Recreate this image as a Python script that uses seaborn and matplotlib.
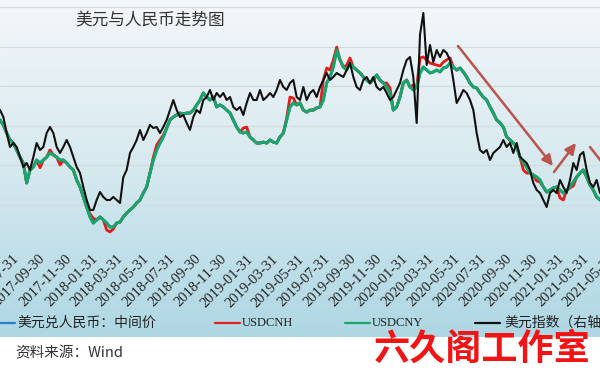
import numpy as np
import pandas as pd
import matplotlib
matplotlib.use("Agg")
import matplotlib.pyplot as plt
import seaborn as sns
from matplotlib.lines import Line2D
from matplotlib.colors import LinearSegmentedColormap

# ---------------- data ----------------
TITLE = "美元与人民币走势图"
SOURCE = "资料来源：Wind"
WATERMARK = "六久阁工作室"
SERIES_NAMES = ["美元兑人民币：中间价", "USDCNH", "USDCNY", "美元指数（右轴）"]

START_DATE = "2017-07-01"
END_DATE = "2021-05-11"
N_POINTS = 181

TICK_DATES = ["2017-07-31", "2017-09-30", "2017-11-30", "2018-01-31", "2018-03-31",
              "2018-05-31", "2018-07-31", "2018-09-30", "2018-11-30", "2019-01-31",
              "2019-03-31", "2019-05-31", "2019-07-31", "2019-09-30", "2019-11-30",
              "2020-01-31", "2020-03-31", "2020-05-31", "2020-07-31", "2020-09-30",
              "2020-11-30", "2021-01-31", "2021-03-31", "2021-05-31"]

USDCNY = [
    6.828, 6.802, 6.762, 6.727, 6.711, 6.676, 6.640, 6.610, 6.509, 6.575, 6.590, 6.625, 6.610, 6.625, 6.640,
    6.661, 6.651, 6.640, 6.625, 6.625, 6.610, 6.590, 6.575, 6.524, 6.489, 6.438, 6.387, 6.337, 6.306, 6.322,
    6.337, 6.322, 6.306, 6.286, 6.286, 6.306, 6.311, 6.337, 6.357, 6.372, 6.387, 6.408, 6.423, 6.458, 6.489,
    6.559, 6.625, 6.676, 6.711, 6.742, 6.787, 6.828, 6.843, 6.853, 6.863, 6.858, 6.863, 6.863, 6.878, 6.904,
    6.929, 6.965, 6.944, 6.929, 6.944, 6.894, 6.904, 6.894, 6.878, 6.863, 6.828, 6.792, 6.767, 6.762, 6.767,
    6.742, 6.727, 6.711, 6.711, 6.716, 6.711, 6.727, 6.716, 6.711, 6.742, 6.762, 6.828, 6.894, 6.914, 6.904,
    6.914, 6.878, 6.868, 6.878, 6.878, 6.889, 6.894, 6.929, 7.015, 7.046, 7.096, 7.182, 7.132, 7.096, 7.081,
    7.116, 7.096, 7.081, 7.066, 7.046, 7.030, 7.015, 7.030, 7.056, 7.030, 7.015, 6.995, 6.965, 6.878, 6.894,
    6.944, 7.015, 7.030, 6.995, 6.980, 6.995, 7.066, 7.096, 7.081, 7.066, 7.071, 7.081, 7.071, 7.091, 7.096,
    7.116, 7.096, 7.081, 7.091, 7.071, 7.046, 7.015, 6.995, 6.990, 6.965, 6.944, 6.929, 6.894, 6.863, 6.828,
    6.813, 6.792, 6.742, 6.727, 6.711, 6.691, 6.640, 6.610, 6.590, 6.559, 6.549, 6.539, 6.524, 6.489, 6.463,
    6.473, 6.484, 6.489, 6.473, 6.458, 6.473, 6.489, 6.514, 6.539, 6.559, 6.575, 6.539, 6.499, 6.473, 6.438,
    6.423]

USDCNH = [
    6.828, 6.802, 6.762, 6.727, 6.711, 6.676, 6.640, 6.610, 6.509, 6.575, 6.590, 6.625, 6.586, 6.625, 6.640,
    6.676, 6.651, 6.640, 6.600, 6.625, 6.610, 6.590, 6.575, 6.524, 6.489, 6.438, 6.387, 6.352, 6.330, 6.322,
    6.337, 6.322, 6.271, 6.261, 6.276, 6.306, 6.311, 6.337, 6.357, 6.372, 6.387, 6.408, 6.423, 6.458, 6.489,
    6.559, 6.640, 6.701, 6.727, 6.752, 6.787, 6.828, 6.843, 6.853, 6.863, 6.858, 6.863, 6.863, 6.878, 6.904,
    6.929, 6.965, 6.944, 6.929, 6.944, 6.894, 6.904, 6.894, 6.878, 6.863, 6.828, 6.792, 6.767, 6.787, 6.792,
    6.742, 6.727, 6.711, 6.711, 6.716, 6.711, 6.727, 6.716, 6.711, 6.742, 6.762, 6.838, 6.944, 6.939, 6.904,
    6.914, 6.878, 6.868, 6.878, 6.878, 6.889, 6.894, 7.030, 7.091, 7.081, 7.132, 7.197, 7.132, 7.096, 7.106,
    7.142, 7.096, 7.081, 7.066, 7.046, 7.030, 7.015, 7.030, 7.056, 7.030, 7.015, 7.015, 6.990, 6.878, 6.894,
    6.944, 7.015, 7.030, 6.995, 7.005, 6.995, 7.142, 7.147, 7.132, 7.116, 7.111, 7.106, 7.101, 7.121, 7.132,
    7.142, 7.096, 7.081, 7.091, 7.071, 7.046, 7.015, 6.995, 6.990, 6.965, 6.944, 6.929, 6.894, 6.863, 6.828,
    6.813, 6.792, 6.742, 6.727, 6.711, 6.691, 6.640, 6.575, 6.559, 6.559, 6.549, 6.519, 6.514, 6.489, 6.463,
    6.473, 6.484, 6.489, 6.433, 6.423, 6.473, 6.484, 6.494, 6.539, 6.559, 6.575, 6.539, 6.499, 6.473, 6.438,
    6.423]

# central parity runs underneath USDCNY for the whole period (hidden by it in the chart)
USDCNY_MID = list(USDCNY)

DXY = [
    95.710, 95.203, 94.043, 93.029, 93.319, 93.029, 92.304, 91.580, 91.869, 91.362, 92.304, 93.319, 92.811, 93.029, 94.043,
    94.478, 94.043, 93.029, 92.594, 93.029, 93.536, 93.029, 92.304, 91.580, 91.145, 90.130, 89.188, 88.464, 88.464, 89.188,
    89.768, 89.406, 89.188, 89.188, 89.406, 89.188, 88.971, 90.855, 91.362, 92.594, 93.029, 93.536, 94.261, 93.536, 94.043,
    94.623, 94.406, 94.478, 94.043, 94.478, 94.985, 95.710, 96.435, 95.710, 95.203, 95.348, 94.768, 94.261, 95.203, 95.710,
    95.493, 96.435, 96.652, 97.159, 96.435, 96.942, 96.652, 96.942, 96.435, 96.652, 95.927, 95.710, 95.927, 95.348, 96.217,
    96.942, 96.435, 96.435, 97.159, 96.435, 96.652, 96.942, 96.652, 97.159, 97.884, 97.377, 97.159, 97.666, 97.884, 96.652,
    96.435, 97.377, 96.435, 96.942, 97.159, 96.652, 97.377, 97.884, 98.391, 97.884, 98.101, 98.391, 98.246, 98.101, 98.609,
    99.116, 98.101, 97.377, 97.159, 97.884, 98.101, 97.666, 98.101, 97.377, 97.159, 97.377, 96.942, 96.435, 96.652, 97.159,
    97.666, 98.609, 99.333, 99.551, 98.101, 94.768, 101.145, 102.739, 98.971, 100.420, 99.188, 100.058, 99.551, 100.058, 99.840,
    99.333, 97.884, 96.217, 96.652, 97.159, 96.942, 96.435, 95.710, 94.043, 92.811, 92.594, 92.811, 92.087, 92.594, 92.811,
    93.029, 93.536, 93.029, 93.319, 92.594, 93.319, 92.304, 92.087, 91.869, 91.362, 90.420, 89.913, 89.695, 89.188, 88.681,
    89.695, 89.913, 89.695, 90.638, 90.130, 89.695, 90.638, 91.869, 91.362, 92.449, 92.667, 91.362, 90.420, 90.130, 90.638,
    89.695]

COLORS = ["#2b7fc8", "#e31b1b", "#17a56c", "#111111"]

# ---------------- figure ----------------
sns.set_style("white")
plt.rcParams["font.family"] = ["Noto Sans CJK SC", "DejaVu Sans"]

W, H = 600, 375
fig = plt.figure(figsize=(W / 100, H / 100), dpi=100)
fig.patch.set_facecolor("white")

# gradient background of the chart area
bg_h = 337
bg = fig.add_axes([0, 1 - bg_h / H, 1, bg_h / H], zorder=-10)
cmap = LinearSegmentedColormap.from_list("bgc", ["#f4f7f9", "#d6e9ef", "#aed7e3"])
grad = np.linspace(0, 1, 256).reshape(-1, 1)
bg.imshow(grad, aspect="auto", cmap=cmap, extent=[0, 1, 0, 1], origin="upper")
bg.axis("off")

dates = pd.date_range(START_DATE, END_DATE, periods=N_POINTS)
df = pd.DataFrame({"date": dates, "mid": USDCNY_MID, "cnh": USDCNH,
                   "cny": USDCNY, "dxy": DXY})

# the chart is cropped on the right: the plot area runs past the image edge
plot_bottom = 244
ax_w_px = 640
ax = fig.add_axes([0, 1 - plot_bottom / H, ax_w_px / W, plot_bottom / H])
ax.patch.set_alpha(0)
ax2 = ax.twinx()
ax2.patch.set_alpha(0)

sns.lineplot(data=df, x="date", y="mid", ax=ax, color=COLORS[0], lw=2.0)
sns.lineplot(data=df, x="date", y="cnh", ax=ax, color=COLORS[1], lw=2.0)
sns.lineplot(data=df, x="date", y="cny", ax=ax, color=COLORS[2], lw=2.2)
sns.lineplot(data=df, x="date", y="dxy", ax=ax2, color=COLORS[3], lw=1.5)

for a in (ax, ax2):
    for s in a.spines.values():
        s.set_visible(False)
    a.set_xlabel("")
    a.set_ylabel("")

ax.set_yticks(np.arange(6.2, 7.41, 0.2))
ax.yaxis.grid(True, color="#d3dce0", lw=0.9)
ax.xaxis.grid(False)
ax.set_axisbelow(True)
ax.tick_params(axis="y", left=False, labelleft=False)
ax2.tick_params(axis="y", right=False, labelright=False)
ax2.grid(False)

tick_pos = pd.to_datetime(TICK_DATES)
ax.set_xticks(tick_pos)
ax.set_xticklabels(TICK_DATES, rotation=45, ha="right", va="top",
                   rotation_mode="anchor", fontsize=10.5,
                   family=["Liberation Serif", "DejaVu Serif"], color="#222222")
ax.tick_params(axis="x", length=0, pad=6)

# limits set after the ticks; visible image width (600 px) spans START..END
x_right = dates[0] + (dates[-1] - dates[0]) * (ax_w_px / W)
ax.set_xlim(dates[0], x_right)
ax.set_ylim(6.2, 6.2 + plot_bottom / 197.5)
ax2.set_ylim(86.0, 86.0 + plot_bottom / 13.8)

# title
fig.text(150 / W, 1 - 20 / H, TITLE, ha="center", va="center", fontsize=12, color="#333333")

# legend (single row)
leg_y = 1 - 323 / H
leg_items = [(-10, 15, 17), (215, 240, 242), (345, 370, 372), (475, 500, 504)]
for (x0, x1, tx), name, c in zip(leg_items, SERIES_NAMES, COLORS):
    fig.add_artist(Line2D([x0 / W, x1 / W], [leg_y, leg_y], color=c, lw=1.6,
                          transform=fig.transFigure))
    if name.isascii():
        fig.text(tx / W, leg_y, name, ha="left", va="center", fontsize=9,
                 color="#222222", family=["Liberation Serif", "DejaVu Serif"])
    else:
        fig.text(tx / W, leg_y, name, ha="left", va="center", fontsize=10,
                 color="#222222")

# source
fig.text(15 / W, 1 - 353 / H, SOURCE, ha="left", va="center", fontsize=10.5, color="#333333")

# trend arrows
arrow_c = "#b9554c"
for (xa, ya), (xb, yb) in [((458, 46), (553, 166)), ((554, 172), (576, 143)), ((590, 147), (612, 175))]:
    ax.annotate("", xy=(xb, H - yb), xytext=(xa, H - ya),
                xycoords="figure pixels", textcoords="figure pixels",
                arrowprops=dict(arrowstyle="-|>,head_length=0.45,head_width=0.22",
                                color=arrow_c, lw=1.8, shrinkA=0, shrinkB=0,
                                mutation_scale=14))

# watermark
fig.text(482 / W, 1 - 349 / H, WATERMARK, ha="center", va="center", fontsize=26,
         color="#f01414", fontweight="bold")

fig.savefig("out.png", dpi=100)
